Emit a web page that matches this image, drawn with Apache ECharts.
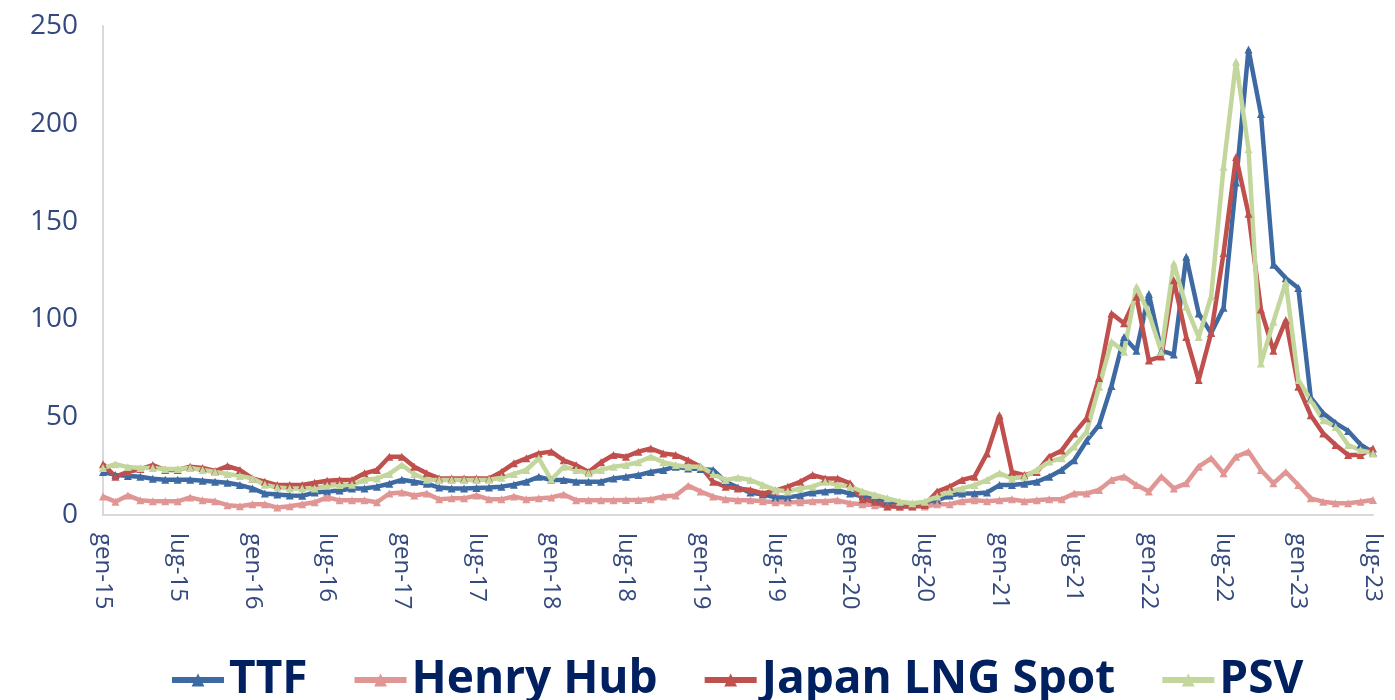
<!DOCTYPE html>
<html>
<head>
<meta charset="utf-8">
<style>
  html, body { margin: 0; padding: 0; background: #fff; }
  #chart { width: 1395px; height: 700px; }
</style>
<script src="https://cdn.jsdelivr.net/npm/echarts/dist/echarts.min.js"></script>
</head>
<body>
<div id="chart"></div>
<script>
// mesi in italiano, da gen-15 a lug-23
const monthNames = ["gen", "feb", "mar", "apr", "mag", "giu", "lug", "ago", "set", "ott", "nov", "dic"];
const years = ["15", "16", "17", "18", "19", "20", "21", "22", "23"];
const lastMonthOfLastYear = 7;

const categories = [];
years.forEach((y, yi) => {
  const n = yi === years.length - 1 ? lastMonthOfLastYear : 12;
  for (let m = 0; m < n; m++) categories.push(monthNames[m] + "-" + y);
});

const yTicks = [0, 50, 100, 150, 200, 250];

// valori in €/MWh
const ttf = [
  22, 20.5, 20, 19.6, 18.5, 18, 18, 18, 17.5, 17, 16.5, 15.3,
  13.6, 11, 10.5, 10, 9.8, 11.5, 12, 12.5, 13.5, 13.6, 14.5, 16,
  18, 17, 16, 14, 13.6, 13.6, 13.8, 14, 14.5, 15.5, 17, 19.5,
  17.9, 17.9, 17, 17, 17, 18.7, 19.5, 20.4, 22, 23, 24.7, 23.8,
  23.5, 23, 17, 14, 11.5, 10.5, 9, 9, 10, 11.5, 12, 12.5,
  11, 9.5, 8, 6.5, 5.5, 5, 5.5, 7.5, 10, 11, 11, 11.5,
  15.3, 15.3, 16, 17, 19.6, 23, 28, 38, 46, 66, 91, 84,
  113, 84, 82, 132, 103, 93, 106, 170, 238, 205, 128, 121,
  116, 60, 52, 47, 43, 36, 32
];

const henryHub = [
  9.4, 6.8, 10, 7.5, 7, 7, 7, 9, 7.5, 7, 5, 4.5,
  5.5, 5.5, 3.8, 4.5, 5.5, 6.5, 9, 7.5, 7.5, 7.5, 6.5, 11,
  11.5, 10, 11, 8, 8.5, 8.5, 10, 8, 8, 9.5, 8, 8.5,
  9, 10.5, 7.5, 7.5, 7.5, 7.5, 7.7, 7.7, 8, 9.5, 10, 15,
  12, 9.4, 8, 7.5, 7.5, 7, 6.5, 6.5, 6.5, 7, 7, 7.5,
  6, 5.5, 5, 4.5, 4.3, 4.5, 4.3, 5.5, 5.5, 7, 7.5, 7,
  7.5, 8, 7, 7.5, 8, 8, 11, 11, 12.8, 17.9, 19.6, 15.3,
  12, 19.6, 13.6, 16.2, 24.7, 29, 21.3, 29.8, 32.4, 23, 16.2, 22,
  15.3, 8.5, 6.8, 6, 6, 6.8, 7.7
];

const japanLng = [
  26, 19.6, 22, 23.5, 25.5, 23, 23, 24.7, 24, 22.5, 25, 23,
  18.7, 17, 15.3, 15.3, 15.3, 16.5, 17.5, 17.9, 17.9, 21.3, 23, 29.8,
  29.8, 24.7, 21.3, 18.7, 18.7, 18.7, 18.7, 18.7, 22, 26.4, 29, 31.5,
  32.4, 28, 25.5, 22, 27, 30.7, 29.8, 32.4, 34, 31.5, 30.7, 28,
  24.7, 17, 14.5, 13.6, 12.8, 11, 12.5, 14.5, 17, 20.4, 18.7, 18.7,
  16.2, 8, 6.8, 4.3, 4.3, 4.3, 5.1, 12, 14.5, 17.9, 19.6, 31.5,
  51, 22, 20.4, 22, 29.8, 33, 41.7, 49.4, 70, 103, 98, 111.6,
  79, 81, 120, 91, 69, 93, 134, 183, 154, 105, 84, 99.7,
  65.6, 51, 41.7, 35.8, 30.7, 30.7, 34
];

const psv = [
  24, 26, 24.5, 24, 24, 23.5, 23.5, 24, 23, 22, 21, 20,
  18.7, 15.5, 14, 13.6, 13.6, 13.6, 15, 15.3, 15.5, 18, 18.7, 21,
  25.5, 21, 18, 17.9, 17.9, 17.9, 17.9, 18, 19, 21, 23, 29,
  18, 24.7, 23, 21.3, 23, 24.7, 25.5, 27, 29.8, 27, 25.5, 24.7,
  24.7, 21, 17.9, 19, 17.9, 15.3, 12.8, 12, 13.6, 14.5, 17, 15.3,
  14.5, 12, 10.2, 8.5, 6.8, 6, 6.8, 9.4, 12, 13.6, 15.3, 17.9,
  21.3, 18.7, 19.6, 23, 27.3, 29, 35, 42.6, 65.6, 88.6, 83.5, 116.7,
  103, 83.5, 128.6, 106.5, 91, 111.6, 178, 231.7, 187, 77.5, 98.8, 119,
  69, 58.8, 48.5, 45, 35.8, 33.2, 31.5
];

const labelColor = "#34497f";
const axisColor = "#d9d9d9";
const font = "'Open Sans', 'Noto Sans', sans-serif";

function lineSeries(name, data, color) {
  return {
    name: name,
    type: "line",
    data: data,
    symbol: "triangle",
    symbolSize: 8,
    showSymbol: true,
    lineStyle: { width: 4.5, color: color },
    itemStyle: { color: color },
    emphasis: { disabled: true },
  };
}

const myChart = echarts.init(document.getElementById("chart"));

const option = {
  animation: false,
  textStyle: { fontFamily: font },
  grid: {
    left: 103,
    right: 22,
    top: 26,
    bottom: 185,
  },
  legend: {
    left: 164,
    top: 652,
    itemWidth: 52,
    itemHeight: 16,
    itemGap: 44,
    lineStyle: { width: 6 },
    textStyle: {
      fontSize: 46,
      fontWeight: "bold",
      color: "#002060",
      fontFamily: font,
    },
    data: ["TTF", "Henry Hub", "Japan LNG Spot", "PSV"],
  },
  xAxis: {
    type: "category",
    data: categories,
    boundaryGap: false,
    axisLine: { lineStyle: { color: axisColor, width: 2 } },
    axisTick: { show: false },
    axisLabel: {
      interval: 5,
      rotate: -90,
      margin: 18,
      color: labelColor,
      fontSize: 24,
      fontFamily: font,
    },
  },
  yAxis: {
    type: "value",
    min: yTicks[0],
    max: yTicks[yTicks.length - 1],
    interval: yTicks[1] - yTicks[0],
    splitLine: { show: false },
    axisLine: { show: true, lineStyle: { color: axisColor, width: 2 } },
    axisTick: { show: false },
    axisLabel: {
      margin: 25,
      color: labelColor,
      fontSize: 28,
      fontFamily: font,
    },
  },
  series: [
    lineSeries("TTF", ttf, "#3e6aa3"),
    lineSeries("Henry Hub", henryHub, "#e09694"),
    lineSeries("Japan LNG Spot", japanLng, "#c0504d"),
    lineSeries("PSV", psv, "#c3d69b"),
  ],
};

myChart.setOption(option);
window.addEventListener("resize", () => myChart.resize());
</script>
</body>
</html>
